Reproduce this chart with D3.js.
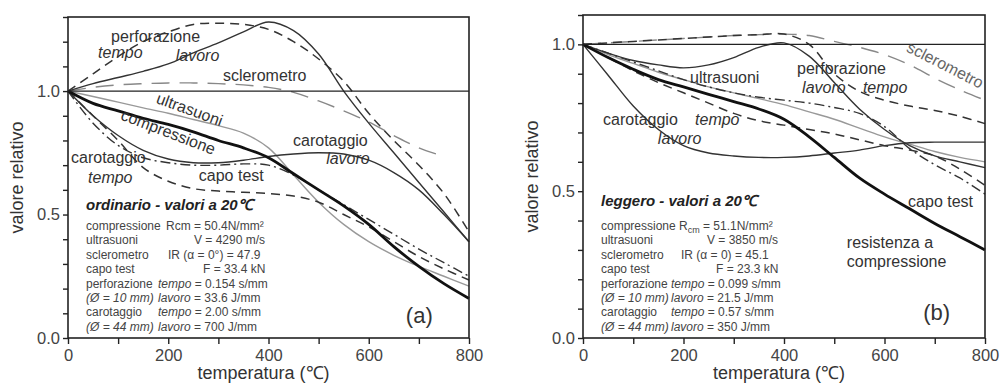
<!DOCTYPE html>
<html>
<head>
<meta charset="utf-8">
<script src="https://cdn.jsdelivr.net/npm/d3@7"></script>
<style>
  body { margin: 0; background: #fff; }
  svg text { font-family: 'Liberation Sans', Arial, sans-serif; fill: #333; }
</style>
</head>
<body>
<svg id="chart" width="1000" height="388"></svg>
<script>
// temperature grid shared by all curves (°C)
const temperatures = [0, 50, 100, 150, 200, 250, 300, 350, 400, 450, 500, 550, 600, 650, 700, 750, 800];

// (a) calcestruzzo ordinario
const compressioneA = [1.0, 0.95, 0.92, 0.89, 0.865, 0.835, 0.80, 0.77, 0.73, 0.665, 0.60, 0.535, 0.46, 0.37, 0.29, 0.22, 0.16];
const ultrasuoniA = [1.0, 0.978, 0.955, 0.932, 0.91, 0.885, 0.86, 0.83, 0.77, 0.66, 0.55, 0.46, 0.39, 0.335, 0.29, 0.25, 0.21];
const sclerometroA = [1.0, 1.015, 1.025, 1.03, 1.033, 1.033, 1.03, 1.025, 1.015, 0.995, 0.96, 0.92, 0.875, 0.82, 0.77, 0.735, null];
const capoTestA = [1.0, 0.87, 0.78, 0.73, 0.71, 0.70, 0.70, 0.705, 0.70, 0.66, 0.60, 0.54, 0.48, 0.42, 0.36, 0.305, 0.25];
const carotaggioTempoA = [1.0, 0.90, 0.80, 0.69, 0.635, 0.605, 0.595, 0.59, 0.585, 0.575, 0.55, 0.50, 0.45, 0.39, 0.33, 0.28, 0.235];
const carotaggioLavoroA = [1.0, 0.90, 0.82, 0.76, 0.725, 0.71, 0.71, 0.72, 0.735, 0.745, 0.75, 0.745, 0.72, 0.67, 0.60, 0.50, 0.39];
const perforazioneTempoA = [1.0, 1.07, 1.14, 1.20, 1.24, 1.27, 1.275, 1.27, 1.25, 1.20, 1.13, 1.04, 0.91, 0.80, 0.70, 0.585, 0.43];
const perforazioneLavoroA = [1.0, 1.03, 1.055, 1.08, 1.11, 1.155, 1.195, 1.24, 1.28, 1.245, 1.15, 1.0, 0.87, 0.75, 0.63, 0.51, 0.39];

// (b) calcestruzzo leggero
const compressioneB = [1.0, 0.955, 0.915, 0.88, 0.855, 0.83, 0.805, 0.78, 0.745, 0.685, 0.615, 0.545, 0.49, 0.44, 0.39, 0.345, 0.30];
const ultrasuoniB = [1.0, 0.965, 0.935, 0.905, 0.88, 0.855, 0.835, 0.815, 0.795, 0.77, 0.745, 0.715, 0.685, 0.66, 0.635, 0.615, 0.60];
const sclerometroB = [1.0, 1.005, 1.01, 1.015, 1.02, 1.025, 1.03, 1.033, 1.035, 1.03, 1.01, 0.99, 0.965, 0.93, 0.885, 0.845, 0.81];
const capoTestB = [1.0, 0.97, 0.94, 0.91, 0.88, 0.855, 0.835, 0.82, 0.81, 0.80, 0.785, 0.765, 0.72, 0.645, 0.59, 0.545, 0.49];
const carotaggioTempoB = [1.0, 0.955, 0.91, 0.87, 0.835, 0.80, 0.765, 0.74, 0.725, 0.71, 0.695, 0.675, 0.655, 0.64, 0.62, 0.575, 0.52];
const carotaggioLavoroB = [1.0, 0.895, 0.79, 0.71, 0.655, 0.63, 0.62, 0.615, 0.615, 0.62, 0.63, 0.64, 0.655, 0.665, 0.667, 0.667, 0.667];
const perforazioneTempoB = [1.0, 1.005, 1.01, 1.015, 1.02, 1.025, 1.03, 1.033, 1.035, 1.0, 0.90, 0.84, 0.81, 0.79, 0.775, 0.755, 0.73];
const perforazioneLavoroB = [1.0, 0.97, 0.945, 0.93, 0.92, 0.93, 0.955, 0.99, 1.005, 0.96, 0.87, 0.78, 0.71, 0.655, 0.62, 0.60, 0.58];

// tick labels
const xTickLabels = [0, 200, 400, 600, 800];
const yTickLabels = [0.0, 0.5, 1.0];

// info tables
const infoNamesA = ['compressione', 'ultrasuoni', 'sclerometro', 'capo test', 'perforazione', '(Ø = 10 mm)', 'carotaggio', '(Ø = 44 mm)'];
const infoValuesA = ['Rcm = 50.4N/mm²', 'V = 4290 m/s', 'IR (α = 0°) = 47.9', 'F = 33.4 kN', 'tempo = 0.154 s/mm', 'lavoro = 33.6 J/mm', 'tempo = 2.00 s/mm', 'lavoro = 700 J/mm'];
const infoNamesB = ['compressione', 'ultrasuoni', 'sclerometro', 'capo test', 'perforazione', '(Ø = 10 mm)', 'carotaggio', '(Ø = 44 mm)'];
const infoValuesB = ['Rcm = 51.1N/mm²', 'V = 3850 m/s', 'IR (α = 0) = 45.1', 'F = 23.3 kN', 'tempo = 0.099 s/mm', 'lavoro = 21.5 J/mm', 'tempo = 0.57 s/mm', 'lavoro = 350 J/mm'];

// curve labels: [text, T, v, style, rotation]
const labelsA = [
  ['perforazione', 86, 1.199, 'n', 0],
  ['tempo', 60, 1.132, 'i', 0],
  ['lavoro', 215, 1.121, 'i', 0],
  ['sclerometro', 309, 1.04, 'n', 0],
  ['ultrasuoni', 239, 0.905, 'n', 20],
  ['compressione', 196, 0.814, 'n', 21],
  ['carotaggio', 6, 0.709, 'n', 0],
  ['tempo', 40, 0.628, 'i', 0],
  ['capo test', 261, 0.636, 'n', 0],
  ['carotaggio', 449, 0.777, 'n', 0],
  ['lavoro', 515, 0.704, 'i', 0]
];
const labelsB = [
  ['ultrasuoni', 213, 0.869, 'n', 0],
  ['perforazione', 426, 0.899, 'n', 0],
  ['lavoro', 436, 0.834, 'i', 0],
  ['tempo', 557, 0.834, 'i', 0],
  ['sclerometro', 716, 0.913, 'g', 27],
  ['carotaggio', 40, 0.725, 'n', 0],
  ['tempo', 223, 0.725, 'i', 0],
  ['lavoro', 149, 0.661, 'i', 0],
  ['capo test', 647, 0.446, 'n', 0],
  ['resistenza a', 525, 0.307, 'n', 0],
  ['compressione', 525, 0.242, 'n', 0]
];

const svg = d3.select('#chart');

const styles = {
  compressione: { color: '#111', width: 2.8, dash: null },
  ultrasuoni: { color: '#999', width: 1.4, dash: null },
  sclerometro: { color: '#888', width: 1.4, dash: '18,10' },
  capoTest: { color: '#333', width: 1.4, dash: '10,4,2,4' },
  carotaggioTempo: { color: '#333', width: 1.5, dash: '9,6' },
  carotaggioLavoro: { color: '#333', width: 1.4, dash: null },
  perforazioneTempo: { color: '#333', width: 1.5, dash: '9,6' },
  perforazioneLavoro: { color: '#333', width: 1.4, dash: null }
};

function drawPanel(p) {
  const top = p.top, bottom = 338;
  const x = d3.scaleLinear().domain([0, 800]).range([p.left, p.right]);
  const y = d3.scaleLinear().domain([0, p.yMax]).range([bottom, top]);
  const g = svg.append('g');

  // curves
  const line = d3.line()
    .defined(d => d[1] != null)
    .x(d => x(d[0]))
    .y(d => y(d[1]))
    .curve(d3.curveCatmullRom.alpha(0.5));

  p.series.forEach(s => {
    const st = styles[s.key];
    g.append('path')
      .datum(temperatures.map((t, i) => [t, s.values[i]]))
      .attr('d', line)
      .attr('fill', 'none')
      .attr('stroke', st.color)
      .attr('stroke-width', st.width)
      .attr('stroke-dasharray', st.dash)
      .attr('stroke-linejoin', 'round');
  });

  // reference line at 1.0
  g.append('line')
    .attr('x1', x(0)).attr('x2', x(800))
    .attr('y1', y(1)).attr('y2', y(1))
    .attr('stroke', '#222').attr('stroke-width', 1.4);

  // frame
  g.append('rect')
    .attr('x', x(0)).attr('y', y(p.yMax))
    .attr('width', x(800) - x(0)).attr('height', y(0) - y(p.yMax))
    .attr('fill', 'none').attr('stroke', '#222').attr('stroke-width', 1.6);

  // x axis
  const xAxis = g.append('g')
    .attr('transform', `translate(0,${bottom})`)
    .call(d3.axisBottom(x)
      .tickValues(d3.range(0, 801, 100))
      .tickFormat(d => xTickLabels.includes(d) ? d : '')
      .tickSize(6).tickSizeOuter(0).tickPadding(5));
  xAxis.select('.domain').remove();
  xAxis.selectAll('.tick line').attr('stroke', '#222').attr('stroke-width', 1.4);
  xAxis.selectAll('text').attr('font-size', 16.5).attr('font-family', null).style('fill', '#444');

  // y axis
  const yTicks = d3.range(0, Math.round(p.yMax * 10) + 1).map(i => i / 10);
  const yAxis = g.append('g')
    .attr('transform', `translate(${p.left},0)`)
    .call(d3.axisLeft(y)
      .tickValues(yTicks)
      .tickFormat(d => yTickLabels.some(v => Math.abs(v - d) < 1e-9) ? d3.format('.1f')(d) : '')
      .tickSize(5).tickSizeOuter(0).tickPadding(3));
  yAxis.select('.domain').remove();
  yAxis.selectAll('.tick line').attr('stroke', '#222').attr('stroke-width', 1.4);
  yAxis.selectAll('text').attr('font-size', 16.5).attr('font-family', null).style('fill', '#444');

  // axis titles
  g.append('text')
    .attr('x', (x(0) + x(800)) / 2 - 5).attr('y', 379)
    .attr('text-anchor', 'middle').attr('font-size', 18)
    .text('temperatura (℃)');
  g.append('text')
    .attr('transform', `translate(${p.left - 45},${(top + bottom) / 2}) rotate(-90)`)
    .attr('text-anchor', 'middle').attr('font-size', 18)
    .text('valore relativo');

  // curve labels
  p.labels.forEach(l => {
    const t = g.append('text')
      .attr('font-size', 16)
      .attr('font-style', l[3] === 'i' ? 'italic' : null)
      .style('fill', l[3] === 'g' ? '#666' : '#333')
      .text(l[0]);
    if (l[4]) {
      t.attr('text-anchor', 'middle')
        .attr('transform', `translate(${x(l[1])},${y(l[2])}) rotate(${l[4]})`);
    } else {
      t.attr('x', x(l[1])).attr('y', y(l[2]));
    }
  });

  // title of the info block
  const col1 = p.left + 18;
  g.append('text')
    .attr('x', col1).attr('y', p.titleY)
    .attr('font-size', 15).attr('font-weight', 'bold').attr('font-style', 'italic')
    .style('fill', '#222')
    .text(p.title);

  // info block
  const rowY = [230, 244, 259, 273, 288, 302, 316, 331];
  p.infoNames.forEach((name, i) => {
    g.append('text')
      .attr('x', col1).attr('y', rowY[i])
      .attr('font-size', 12)
      .attr('font-style', name.startsWith('(') ? 'italic' : null)
      .style('fill', '#444')
      .text(name);

    const val = p.infoValues[i];
    const vt = g.append('text')
      .attr('x', col1 + p.col2[i]).attr('y', rowY[i])
      .attr('font-size', 12)
      .style('fill', '#444');
    const first = val.split(' ')[0];
    if (first === 'tempo' || first === 'lavoro') {
      vt.append('tspan').attr('font-style', 'italic').text(first);
      vt.append('tspan').text(val.slice(first.length));
    } else if (first === 'Rcm' && p.subscript) {
      vt.append('tspan').text('R');
      vt.append('tspan').attr('font-size', 9).attr('dy', 3).text('cm');
      vt.append('tspan').attr('dy', -3).text(val.slice(3));
    } else {
      vt.text(val);
    }
  });

  // panel letter
  g.append('text')
    .attr('x', x(p.letterPos[0])).attr('y', y(p.letterPos[1]))
    .attr('font-size', 22)
    .text(p.letter);
}

drawPanel({
  left: 68, right: 469, top: 17, yMax: 1.3,
  series: [
    { key: 'sclerometro', values: sclerometroA },
    { key: 'ultrasuoni', values: ultrasuoniA },
    { key: 'capoTest', values: capoTestA },
    { key: 'carotaggioTempo', values: carotaggioTempoA },
    { key: 'carotaggioLavoro', values: carotaggioLavoroA },
    { key: 'perforazioneTempo', values: perforazioneTempoA },
    { key: 'perforazioneLavoro', values: perforazioneLavoroA },
    { key: 'compressione', values: compressioneA }
  ],
  labels: labelsA,
  title: 'ordinario - valori a 20℃',
  titleY: 210,
  infoNames: infoNamesA,
  infoValues: infoValuesA,
  col2: [80, 108, 82, 117, 72, 72, 72, 72],
  subscript: false,
  letter: '(a)',
  letterPos: [674, 0.06]
});

drawPanel({
  left: 583, right: 985, top: 15, yMax: 1.1,
  series: [
    { key: 'sclerometro', values: sclerometroB },
    { key: 'ultrasuoni', values: ultrasuoniB },
    { key: 'capoTest', values: capoTestB },
    { key: 'carotaggioTempo', values: carotaggioTempoB },
    { key: 'carotaggioLavoro', values: carotaggioLavoroB },
    { key: 'perforazioneTempo', values: perforazioneTempoB },
    { key: 'perforazioneLavoro', values: perforazioneLavoroB },
    { key: 'compressione', values: compressioneB }
  ],
  labels: labelsB,
  title: 'leggero - valori a 20℃',
  titleY: 206,
  infoNames: infoNamesB,
  infoValues: infoValuesB,
  col2: [78, 106, 80, 115, 70, 70, 70, 70],
  subscript: true,
  letter: '(b)',
  letterPos: [677, 0.06]
});
</script>
</body>
</html>
